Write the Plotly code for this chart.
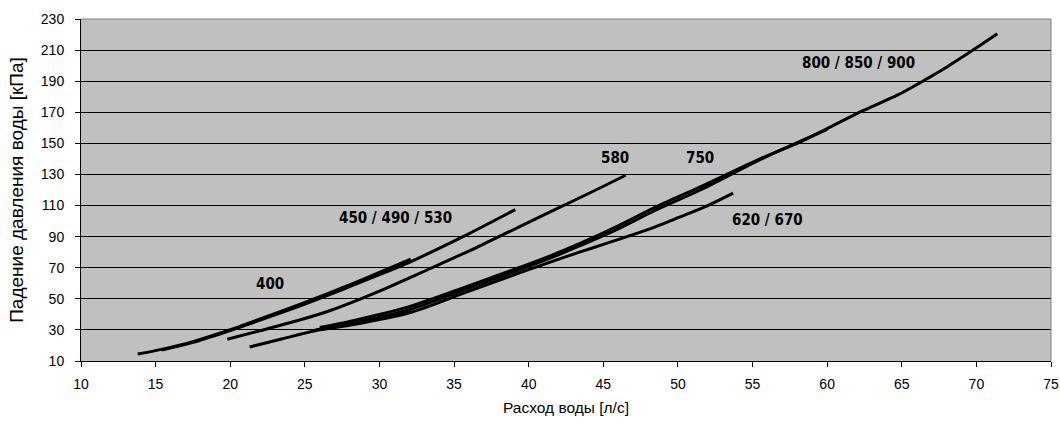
import plotly.graph_objects as go

# pressure drop curves
x_400 = [13.8, 15.4, 17.5, 19.8, 22.0, 24.7, 26.7, 28.0, 30.0, 32.1]
y_400 = [14.5, 17.5, 22.5, 29.5, 37.0, 46.5, 54.0, 59.0, 67.0, 75.5]

x_450 = [15.4, 17.5, 19.8, 22.0, 24.7, 26.7, 28.0, 30.0, 32.0, 35.6, 39.1]
y_450 = [17.0, 22.0, 29.0, 36.3, 45.5, 52.8, 57.8, 65.5, 73.5, 90.0, 107.4]

x_580 = [19.8, 22.0, 24.7, 26.7, 30.0, 33.4, 36.5, 39.4, 42.0, 44.5, 46.5]
y_580 = [24.0, 29.5, 36.5, 42.5, 55.0, 69.5, 83.0, 96.5, 108.5, 120.0, 129.5]

x_620 = [21.3, 23.5, 25.7, 28.0, 32.0, 35.6, 39.2, 41.4, 43.4, 45.0, 48.4, 50.1, 52.0, 53.7]
y_620 = [19.0, 24.3, 29.5, 33.0, 41.0, 53.5, 66.0, 73.5, 80.0, 85.0, 96.0, 102.5, 110.0, 118.0]

x_750 = [25.7, 28.0, 32.0, 35.6, 39.2, 41.4, 43.4, 46.0, 48.4, 51.5, 55.5, 58.0, 60.0]
y_750 = [30.0, 34.0, 43.0, 55.5, 68.0, 76.0, 84.0, 95.0, 106.5, 120.0, 139.5, 150.5, 159.0]

x_800 = [26.0, 28.0, 32.0, 35.6, 39.2, 41.4, 43.4, 46.0, 48.4, 51.5, 55.5, 58.2, 60.0,
         62.4, 64.7, 66.5, 68.0, 69.7, 71.4]
y_800 = [31.5, 35.5, 45.0, 57.0, 69.5, 77.5, 85.5, 97.0, 108.5, 122.0, 140.0, 151.0, 159.5,
         171.0, 181.0, 190.5, 199.0, 209.5, 220.5]

curves = [(x_400, y_400), (x_450, y_450), (x_580, y_580),
          (x_620, y_620), (x_750, y_750), (x_800, y_800)]

label_text = ["400", "450 / 490 / 530", "580", "750", "620 / 670", "800 / 850 / 900"]
label_x = [22.67, 31.05, 45.8, 51.5, 56.0, 62.1]
label_y = [59.3, 102.3, 140.4, 140.4, 100.5, 201.5]

fig = go.Figure()

for xs, ys in curves:
    fig.add_trace(go.Scatter(x=xs, y=ys, mode='lines', line_shape='spline',
                             line=dict(color='black', width=3, smoothing=0.8),
                             showlegend=False))

for t, lx, ly in zip(label_text, label_x, label_y):
    fig.add_annotation(x=lx, y=ly, text=f"<b>{t}</b>", showarrow=False,
                       font=dict(family="DejaVu Sans Condensed, sans-serif",
                                 size=15, color='black'))

# gray frame on top and right
fig.add_shape(type='line', xref='paper', yref='paper', x0=0, x1=1, y0=1, y1=1,
              line=dict(color='#808080', width=1), layer='above')
fig.add_shape(type='line', xref='paper', yref='paper', x0=1, x1=1, y0=0, y1=1,
              line=dict(color='#808080', width=1), layer='above')

fig.update_layout(
    width=1060, height=428,
    margin=dict(l=81, r=9, t=19, b=67),
    plot_bgcolor='#c0c0c0',
    paper_bgcolor='white',
    font=dict(family="Liberation Sans, Arial, sans-serif", size=14, color='black'),
    showlegend=False
)

fig.update_xaxes(range=[10, 75], dtick=5, tick0=10, showgrid=False, zeroline=False,
                 showline=True, linecolor='black', linewidth=1, automargin=False,
                 ticks='outside', ticklen=5, tickcolor='black', ticklabelstandoff=5,
                 title=dict(text="Расход воды [л/с]", font=dict(size=15.5), standoff=11))
fig.update_yaxes(range=[10, 230], dtick=20, tick0=10, showgrid=True, gridcolor='black',
                 gridwidth=1, zeroline=False, automargin=False,
                 showline=True, linecolor='black', linewidth=1,
                 ticks='outside', ticklen=5, tickcolor='black', ticklabelstandoff=8,
                 title=dict(text="Падение давления воды [кПа]", font=dict(size=19), standoff=12))

# drop the default page margin so the figure sits at the window corner
fig.write_html("out.html", config={'displayModeBar': False},
               post_script="document.body.style.margin='0';")
